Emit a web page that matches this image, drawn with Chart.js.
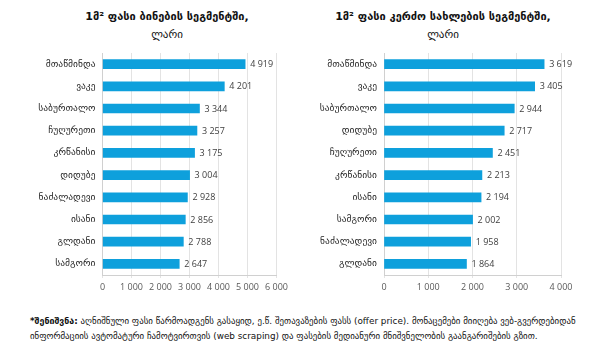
<!DOCTYPE html>
<html><head><meta charset="utf-8">
<script src="https://cdn.jsdelivr.net/npm/chart.js@4/dist/chart.umd.min.js"></script>
<style>
html,body{margin:0;padding:0;background:#fff;width:605px;height:358px;overflow:hidden;font-family:"DejaVu Sans",sans-serif;}
.wrap{position:absolute;}
.title{position:absolute;text-align:center;font-weight:bold;font-size:11px;color:#111;white-space:nowrap;line-height:18px;}
.title span{font-weight:normal;}
.note{position:absolute;left:30px;top:314px;font-size:8.85px;line-height:15px;color:#111;white-space:nowrap;}
</style></head>
<body>
<div class="title" style="left:57px;width:220px;top:8px;">1მ² ფასი ბინების სეგმენტში,<br><span>ლარი</span></div>
<div class="title" style="left:323px;width:240px;top:8px;">1მ² ფასი კერძო სახლების სეგმენტში,<br><span>ლარი</span></div>
<div class="wrap" style="left:0;top:0;width:300px;height:300px;"><canvas id="c1" width="300" height="300"></canvas></div>
<div class="wrap" style="left:300px;top:0;width:305px;height:300px;"><canvas id="c2" width="305" height="300"></canvas></div>
<div class="note"><b>*შენიშვნა:</b> აღნიშნული ფასი წარმოადგენს გასაყიდ, ე.წ. შეთავაზების ფასს (offer price). მონაცემები მიიღება ვებ-გვერდებიდან<br>ინფორმაციის ავტომატური ჩამოტვირთვის (web scraping) და ფასების მედიანური მნიშვნელობის გაანგარიშების გზით.</div>
<script>
const flatCategories = ["მთაწმინდა","ვაკე","საბურთალო","ჩუღურეთი","კრწანისი","დიდუბე","ნაძალადევი","ისანი","გლდანი","სამგორი"];
const flatValues = [4919,4201,3344,3257,3175,3004,2928,2856,2788,2647];
const houseCategories = ["მთაწმინდა","ვაკე","საბურთალო","დიდუბე","ჩუღურეთი","კრწანისი","ისანი","სამგორი","ნაძალადევი","გლდანი"];
const houseValues = [3619,3405,2944,2717,2451,2213,2194,2002,1958,1864];
const flatTicks = [0,1000,2000,3000,4000,5000,6000];
const houseTicks = [0,1000,2000,3000,4000];

function fmt(v){return String(v).replace(/\B(?=(\d{3})+(?!\d))/g,' ');}

const valueLabels = {
  id:'valueLabels',
  afterDatasetsDraw(chart){
    const ctx = chart.ctx;
    const meta = chart.getDatasetMeta(0);
    ctx.save();
    ctx.font = '9px "Open Sans", sans-serif';
    ctx.fillStyle = '#404040';
    ctx.textAlign = 'left';
    ctx.textBaseline = 'middle';
    meta.data.forEach((bar,i)=>{
      ctx.fillText(fmt(chart.data.datasets[0].data[i]), bar.x + 5, bar.y + 0.5);
    });
    ctx.restore();
  }
};

function makeChart(id, cats, vals, ticks, max, yWidth, padRight){
  new Chart(document.getElementById(id),{
    type:'bar',
    data:{labels:cats,datasets:[{data:vals,backgroundColor:'#0ea0dc',barThickness:9,borderWidth:0}]},
    options:{
      indexAxis:'y',responsive:false,animation:false,
      layout:{padding:{top:53,right:padRight,bottom:0,left:0}},
      plugins:{legend:{display:false},tooltip:{enabled:false}},
      scales:{
        x:{min:0,max:max,
          afterBuildTicks(ax){ax.ticks = ticks.map(v=>({value:v}));},
          afterFit(ax){ax.height = 25;},
          grid:{color:'#e3e3e3',lineWidth:1,tickLength:3,drawTicks:true},
          border:{display:true,color:'#d0d0d0'},
          ticks:{font:{family:'"Open Sans", sans-serif',size:9},color:'#595959',padding:4,maxRotation:0,autoSkip:false,callback:(v)=>fmt(v)}
        },
        y:{
          afterFit(ax){ax.width = yWidth;},
          grid:{display:false,drawTicks:false},
          border:{display:true,color:'#d0d0d0'},
          ticks:{font:{family:'"DejaVu Sans", sans-serif',size:9.5},color:'#222',padding:7}
        }
      }
    },
    plugins:[valueLabels]
  });
}
makeChart('c1', flatCategories, flatValues, flatTicks, 6000, 102.5, 23.5);
makeChart('c2', houseCategories, houseValues, houseTicks, 4000, 84, 44);
</script>
</body></html>
